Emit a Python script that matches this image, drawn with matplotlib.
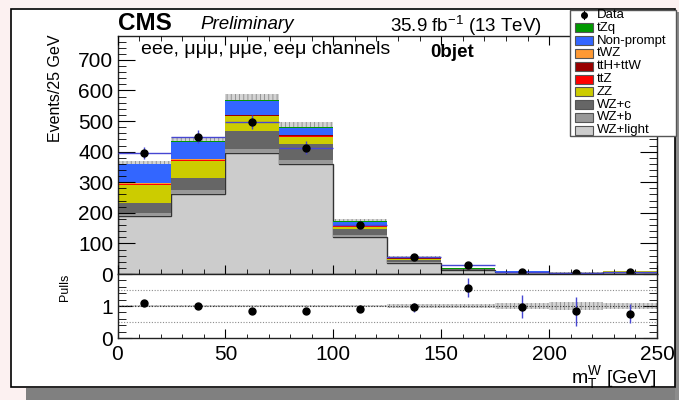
import numpy as np
import matplotlib
matplotlib.use("Agg")
import matplotlib.pyplot as plt
from matplotlib.patches import Rectangle
from matplotlib.lines import Line2D
from matplotlib.ticker import MultipleLocator

plt.rcParams["font.family"] = ["Liberation Sans", "DejaVu Sans"]
plt.rcParams["mathtext.fontset"] = "custom"
plt.rcParams["mathtext.rm"] = "Liberation Sans"
plt.rcParams["mathtext.default"] = "regular"
plt.rcParams["hatch.linewidth"] = 0.6

# m_T^W binning, 25 GeV per bin
edges = np.arange(0, 275, 25)
centers = 0.5 * (edges[:-1] + edges[1:])

# stacked backgrounds, bottom to top (events / bin)
wz_light = [190, 261, 395, 359, 122, 37, 12.5, 6.2, 3.4, 6.8]
wz_b = [10, 12, 15, 14, 6, 3, 1.0, 0.5, 0.3, 0.5]
wz_c = [32, 40, 58, 52, 18, 6, 2.5, 0.9, 0.4, 0.7]
zz = [59, 57, 47, 24, 9, 4, 1.2, 0.4, 0.15, 0.3]
ttz = [2, 2, 2, 3, 1, 0.5, 0.2, 0.02, 0.01, 0.03]
tth_ttw = [2, 2, 3, 3, 1, 0.5, 0.2, 0.02, 0.01, 0.03]
twz = [1, 1, 1, 1, 0.5, 0.2, 0.05, 0.01, 0.01, 0.01]
nonprompt = [62, 56, 45, 22, 13, 5, 0.3, 0.15, 0.02, 0.1]
tzq = [3, 3, 4, 4, 2, 1, 0.05, 0.05, 0.01, 0.03]
stack_unc = [10, 15, 18, 16, 6, 3, 1.3, 0.9, 0.6, 0.7]

data = [395, 448, 496, 413, 160, 55, 28, 8, 4, 6]

# lower panel
pulls = [1.08, 1.0, 0.85, 0.84, 0.91, 0.96, 1.57, 0.98, 0.83, 0.76]
pull_err = [0.05, 0.05, 0.04, 0.04, 0.07, 0.14, 0.30, 0.35, 0.44, 0.30]

procs = [
    ("WZ+light", wz_light, "#cccccc"),
    ("WZ+b", wz_b, "#999999"),
    ("WZ+c", wz_c, "#666666"),
    ("ZZ", zz, "#cccc00"),
    ("ttZ", ttz, "#ff0000"),
    ("ttH+ttW", tth_ttw, "#990000"),
    ("tWZ", twz, "#ff9933"),
    ("Non-prompt", nonprompt, "#3366ff"),
    ("tZq", tzq, "#009900"),
]

W, H = 679.0, 400.0


def fx(px):
    return px / W


def fy(py):
    return 1.0 - py / H


fig = plt.figure(figsize=(W / 100, H / 100), dpi=100)
fig.patch.set_facecolor("#fcf1f1")

# canvas frame + shadow
fig.add_artist(Rectangle((fx(26), 0), 1 - fx(26), fy(388), transform=fig.transFigure,
                         facecolor="#808080", edgecolor="none", zorder=0))
fig.add_artist(Rectangle((fx(675), 0), 1 - fx(675), fy(12), transform=fig.transFigure,
                         facecolor="#8c8c8c", edgecolor="none", zorder=0))
fig.add_artist(Rectangle((fx(11), fy(387)), fx(675) - fx(11), fy(9) - fy(387),
                         transform=fig.transFigure, facecolor="white",
                         edgecolor="black", lw=1.2, zorder=0))

ax = fig.add_axes([fx(117.5), fy(274), fx(657) - fx(117.5), fy(36) - fy(274)])
rax = fig.add_axes([fx(117.5), fy(338), fx(657) - fx(117.5), fy(274) - fy(338)])

# stacked histogram
bottom = np.zeros(len(data))
for name, vals, col in procs:
    top = bottom + np.asarray(vals, float)
    ax.stairs(top, edges, baseline=bottom, fill=True, color=col, lw=0)
    if name == "WZ+light":
        ax.stairs(top, edges, baseline=0, color="#333333", lw=1.0)
    bottom = top
total = bottom

unc = np.asarray(stack_unc, float)
ax.stairs(total + unc, edges, baseline=total - unc, fill=True,
          facecolor="#d4d4d4", edgecolor="#8a8a8a", hatch="||||", lw=0, zorder=0.5)
ax.set_axisbelow(False)

ax.errorbar(centers, data, xerr=12.5, yerr=np.sqrt(data), fmt="o", color="black",
            ms=5, ecolor="#4646d2", elinewidth=1, capsize=0, zorder=5)

ax.set_xlim(0, 250)
ax.set_ylim(0, 778)
ax.yaxis.set_major_locator(MultipleLocator(100))
ax.yaxis.set_minor_locator(MultipleLocator(20))
ax.xaxis.set_major_locator(MultipleLocator(50))
ax.xaxis.set_minor_locator(MultipleLocator(10))
ax.tick_params(which="both", direction="in", top=True, right=True,
               labelbottom=False, labelsize=15, pad=3)
ax.tick_params(axis="y", which="major", length=12)
ax.tick_params(axis="y", which="minor", length=6)
ax.tick_params(axis="x", which="major", length=6.5)
ax.tick_params(axis="x", which="minor", length=3.3)

# ratio panel
rel = unc / total
rax.stairs(1 + rel, edges, baseline=1 - rel, fill=True, facecolor="#d4d4d4",
           edgecolor="#8a8a8a", hatch="||||", lw=0, zorder=1)
for lvl, c in ((0.5, "#8c8c8c"), (1.0, "#333333"), (1.5, "#8c8c8c")):
    rax.axhline(lvl, color=c, ls=(0, (1, 1.5)), lw=0.8, zorder=2)
rax.errorbar(centers, pulls, yerr=pull_err, fmt="o", color="black", ms=5,
             ecolor="#4646d2", elinewidth=1, capsize=0, zorder=5)
rax.set_xlim(0, 250)
rax.set_ylim(0, 2)
rax.set_yticks([0, 1, 2])
rax.set_yticklabels(["0", "1", ""])
rax.yaxis.set_minor_locator(MultipleLocator(0.2))
rax.xaxis.set_major_locator(MultipleLocator(50))
rax.xaxis.set_minor_locator(MultipleLocator(10))
rax.tick_params(which="both", direction="in", top=False, right=True, labelsize=15)
rax.tick_params(axis="y", which="major", length=10, pad=3)
rax.tick_params(axis="y", which="minor", length=6)
rax.tick_params(axis="x", which="major", length=6.5, pad=5)
rax.tick_params(axis="x", which="minor", length=3)

for a in (ax, rax):
    for s in a.spines.values():
        s.set_linewidth(1.0)
        s.set_color("#222222")

# labels
fig.text(fx(56), fy(35), "Events/25 GeV", rotation=90, ha="center", va="top", fontsize=11.5)
fig.text(fx(65), fy(274), "Pulls", rotation=90, ha="center", va="top", fontsize=9)
fig.text(fx(657), fy(383), r"m$_T^W$ [GeV]", ha="right", va="baseline", fontsize=14)

fig.text(fx(118), fy(30.5), "CMS", fontweight="bold", fontsize=17.5, va="baseline")
fig.text(fx(200), fy(29), "Preliminary", fontstyle="italic", fontsize=13.5, va="baseline")
fig.text(fx(390), fy(31.5), r"35.9 fb$^{-1}$ (13 TeV)", fontsize=13.5, va="baseline")
fig.text(fx(141), fy(54), "eee, \u03bc\u03bc\u03bc, \u03bc\u03bce, ee\u03bc channels",
         fontsize=14, va="baseline")
fig.text(fx(430), fy(57), "0bjet", fontweight="bold", fontsize=13.5, va="baseline")

# legend
fig.add_artist(Rectangle((fx(570), fy(136)), fx(676) - fx(570), fy(10) - fy(136),
                         transform=fig.transFigure, facecolor="white",
                         edgecolor="#555555", lw=1.0, zorder=3))
legend_rows = [("Data", None)] + [(n, c) for n, _, c in procs[::-1]]
for i, (name, col) in enumerate(legend_rows):
    yc = 15 + 12.8 * i
    if col is None:
        fig.add_artist(Line2D([fx(584)], [fy(yc)], marker="o", ms=4, color="black",
                              transform=fig.transFigure, zorder=4))
        fig.add_artist(Line2D([fx(584), fx(584)], [fy(yc - 4), fy(yc + 4)], color="black",
                              lw=0.8, transform=fig.transFigure, zorder=4))
    else:
        fig.add_artist(Rectangle((fx(575), fy(yc + 4.5)), fx(593) - fx(575), fy(yc - 4.5) - fy(yc + 4.5),
                                 transform=fig.transFigure, facecolor=col,
                                 edgecolor="#555555", lw=0.8, zorder=4))
    fig.text(fx(597), fy(yc), name, fontsize=9.5, va="center", zorder=5)

fig.savefig("out.png", dpi=100, facecolor=fig.get_facecolor())
